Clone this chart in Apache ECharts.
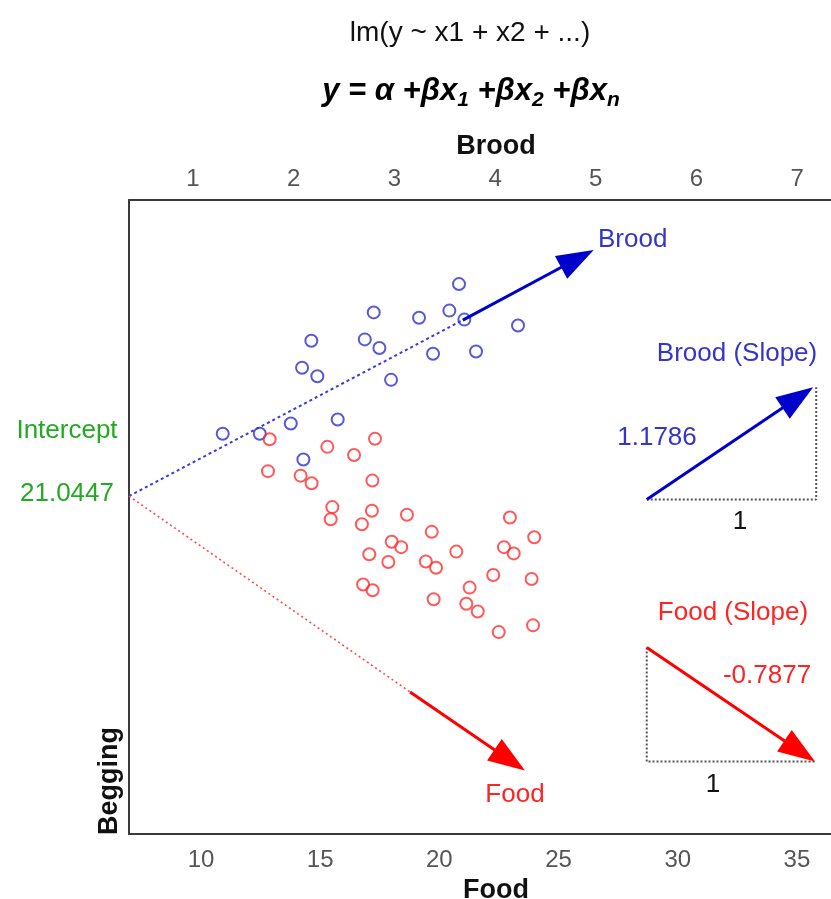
<!DOCTYPE html>
<html><head><meta charset="utf-8">
<script src="https://cdn.jsdelivr.net/npm/echarts@6/dist/echarts.min.js"></script>
<style>html,body{margin:0;padding:0;background:#fff}#c{width:831px;height:899px}</style>
</head><body><div id="c"></div>
<script>
// ---- data ----
const foodTicks = [10, 15, 20, 25, 30, 35];
const broodTicks = [1, 2, 3, 4, 5, 6, 7];
const foodRange = [6.98, 36.43];
const broodRange = [0.364, 7.337];
const beggingRange = [13.53, 27.63];

const interceptLabel = '21.0447';
const broodSlopeLabel = '1.1786';
const foodSlopeLabel = '-0.7877';

// Begging vs Brood (blue)
const broodPoints = [
  [3.642,25.76],[2.795,25.13],[3.245,25.01],[3.546,25.17],[3.695,24.97],
  [4.228,24.84],[2.175,24.50],[2.706,24.53],[2.851,24.34],[3.384,24.21],
  [3.811,24.26],[2.083,23.90],[2.235,23.71],[2.967,23.63],[2.437,22.75],
  [1.971,22.66],[1.295,22.43],[1.663,22.43],[2.096,21.86]
];
// Begging vs Food (red)
const foodPoints = [
  [12.88,22.31],[17.30,22.32],[15.30,22.14],[16.42,21.96],[12.81,21.60],
  [14.18,21.50],[14.64,21.33],[17.19,21.39],[15.51,20.80],[15.44,20.53],
  [17.17,20.72],[16.75,20.42],[18.64,20.63],[19.68,20.25],[22.96,20.57],
  [23.98,20.13],[18.00,20.03],[18.40,19.91],[20.71,19.81],[22.71,19.91],
  [23.12,19.77],[17.06,19.75],[17.86,19.58],[19.43,19.59],[19.86,19.45],
  [22.26,19.29],[23.87,19.20],[16.80,19.08],[17.20,18.95],[21.27,19.01],
  [19.76,18.75],[21.13,18.65],[21.61,18.48],[22.49,18.02],[23.93,18.17]
];
// fitted lines (dotted part and arrow part)
const broodFitDotted = [[0.364,21.0447],[3.68,24.96]];
const broodFitArrow = [[3.68,24.96,4.98,26.52]];
const foodFitDotted = [[6.98,21.0447],[18.77,16.69]];
const foodFitArrow = [[18.77,16.69,23.59,14.94]];
// slope triangles
const broodSlopeGuide = [[5.507,20.97],[7.19,20.97],[7.19,23.465]];
const broodSlopeArrow = [[5.507,20.97,7.16,23.465]];
const foodSlopeGuide = [[28.70,17.68],[28.70,15.14],[35.76,15.14]];
const foodSlopeArrow = [[28.70,17.68,35.76,15.14]];

// ---- chart ----
const FONT = 'Liberation Sans, Arial, sans-serif';
const BLUE_PT = '#3030cc', RED_PT = '#ff3030';
const BLUE_AR = '#0000cd', RED_AR = '#ff0000';
const BLUE_TX = '#3535cc', RED_TX = '#ff2424', GREEN_TX = '#22aa22';

function arrowRender(color, width, headLen, headHalf) {
  return function (params, api) {
    const p1 = api.coord([api.value(0), api.value(1)]);
    const p2 = api.coord([api.value(2), api.value(3)]);
    const dx = p2[0] - p1[0], dy = p2[1] - p1[1];
    const len = Math.hypot(dx, dy), ux = dx / len, uy = dy / len;
    const bx = p2[0] - ux * headLen, by = p2[1] - uy * headLen;
    return {
      type: 'group',
      children: [
        { type: 'line', shape: { x1: p1[0], y1: p1[1], x2: bx + ux * 3, y2: by + uy * 3 },
          style: { stroke: color, lineWidth: width } },
        { type: 'polygon', shape: { points: [[p2[0], p2[1]], [bx - uy * headHalf, by + ux * headHalf], [bx + uy * headHalf, by - ux * headHalf]] },
          style: { fill: color } }
      ]
    };
  };
}

function arrowSeries(data, xIdx, color) {
  return {
    type: 'custom', xAxisIndex: xIdx, yAxisIndex: 0, silent: true,
    renderItem: arrowRender(color, 3, 37, 13),
    encode: { x: [0, 2], y: [1, 3] }, data: data, z: 5
  };
}
function dottedSeries(data, xIdx, color, width, dash) {
  return {
    type: 'line', xAxisIndex: xIdx, yAxisIndex: 0, data: data, symbol: 'none', silent: true,
    lineStyle: { color: color, width: width, type: dash }, animation: false, z: 3
  };
}
function txt(text, x, y, size, color, extra) {
  return {
    type: 'text', x: x, y: y, silent: true,
    style: Object.assign({ text: text, fontSize: size, fontFamily: FONT, fill: color,
      align: 'center', verticalAlign: 'middle', textAlign: 'center', textVerticalAlign: 'middle' }, extra || {})
  };
}

const axisLineStyle = { show: true, onZero: false, lineStyle: { color: '#3a3a3a', width: 2 } };
const tickLabel = { fontSize: 24, color: '#555', fontFamily: FONT };
const axisName = { fontSize: 27, fontWeight: 'bold', color: '#111', fontFamily: FONT, padding: [0, 0, 0, 32] };

const begging = txt('Begging', 110, 781, 27, '#111', { fontWeight: 'bold' });
begging.rotation = Math.PI / 2;

const chart = echarts.init(document.getElementById('c'), null, { renderer: 'canvas' });
chart.setOption({
  animation: false,
  backgroundColor: '#fff',
  grid: { left: 129, top: 200, bottom: 65, right: 0, containLabel: false, outerBoundsMode: 'none' },
  xAxis: [
    { type: 'value', position: 'bottom', min: foodRange[0], max: foodRange[1],
      axisLine: axisLineStyle, axisTick: { show: false }, splitLine: { show: false },
      axisLabel: Object.assign({ customValues: foodTicks, margin: 14 }, tickLabel),
      name: 'Food', nameLocation: 'middle', nameGap: 41, nameTextStyle: axisName },
    { type: 'value', position: 'top', min: broodRange[0], max: broodRange[1],
      axisLine: axisLineStyle, axisTick: { show: false }, splitLine: { show: false },
      axisLabel: Object.assign({ customValues: broodTicks, margin: 9 }, tickLabel),
      name: 'Brood', nameLocation: 'middle', nameGap: 40, nameTextStyle: axisName }
  ],
  yAxis: [
    { type: 'value', min: beggingRange[0], max: beggingRange[1],
      axisLine: axisLineStyle, axisTick: { show: false }, splitLine: { show: false },
      axisLabel: { show: false } }
  ],
  series: [
    dottedSeries(broodFitDotted, 1, '#3a3ae0', 2, [3, 3]),
    dottedSeries(foodFitDotted, 0, '#ff4a4a', 1.6, [2, 3]),
    dottedSeries(broodSlopeGuide, 1, '#555', 2, [2, 2]),
    dottedSeries(foodSlopeGuide, 0, '#555', 2, [2, 2]),
    { type: 'scatter', xAxisIndex: 1, yAxisIndex: 0, data: broodPoints, symbol: 'circle', symbolSize: 12,
      itemStyle: { color: 'rgba(0,0,0,0)', borderColor: BLUE_PT, borderWidth: 2 }, z: 4 },
    { type: 'scatter', xAxisIndex: 0, yAxisIndex: 0, data: foodPoints, symbol: 'circle', symbolSize: 12,
      itemStyle: { color: 'rgba(0,0,0,0)', borderColor: RED_PT, borderWidth: 2 }, z: 4 },
    arrowSeries(broodFitArrow, 1, BLUE_AR),
    arrowSeries(foodFitArrow, 0, RED_AR),
    arrowSeries(broodSlopeArrow, 1, BLUE_AR),
    arrowSeries(foodSlopeArrow, 0, RED_AR)
  ],
  graphic: [
    txt('lm(y ~ x1 + x2 + ...)', 470, 33, 28, '#111'),
    {
      type: 'text', x: 471, y: 91, silent: true,
      style: {
        text: '{m|y = α +βx}{s|1}{m| +βx}{s|2}{m| +βx}{s|n}',
        align: 'center', verticalAlign: 'middle', textAlign: 'center', textVerticalAlign: 'middle',
        rich: {
          m: { fontSize: 31, fontWeight: 'bold', fontStyle: 'italic', fontFamily: FONT, fill: '#000', lineHeight: 36 },
          s: { fontSize: 21, fontWeight: 'bold', fontStyle: 'italic', fontFamily: FONT, fill: '#000', lineHeight: 21, padding: [18, 0, 0, 0] }
        }
      }
    },
    txt('Intercept', 67, 431, 26, GREEN_TX),
    txt(interceptLabel, 67, 494, 26, GREEN_TX),
    txt('Brood', 598, 240, 26, BLUE_TX, { align: 'left', textAlign: 'left' }),
    txt('Food', 515, 795, 26, RED_TX),
    txt('Brood (Slope)', 737, 354, 26, BLUE_TX),
    txt(broodSlopeLabel, 657, 438, 26, BLUE_TX),
    txt('1', 740, 522, 26, '#111'),
    txt('Food (Slope)', 733, 613, 26, RED_TX),
    txt(foodSlopeLabel, 767, 676, 26, RED_TX),
    txt('1', 713, 785, 26, '#111'),
    begging
  ]
});
</script>
</body></html>
